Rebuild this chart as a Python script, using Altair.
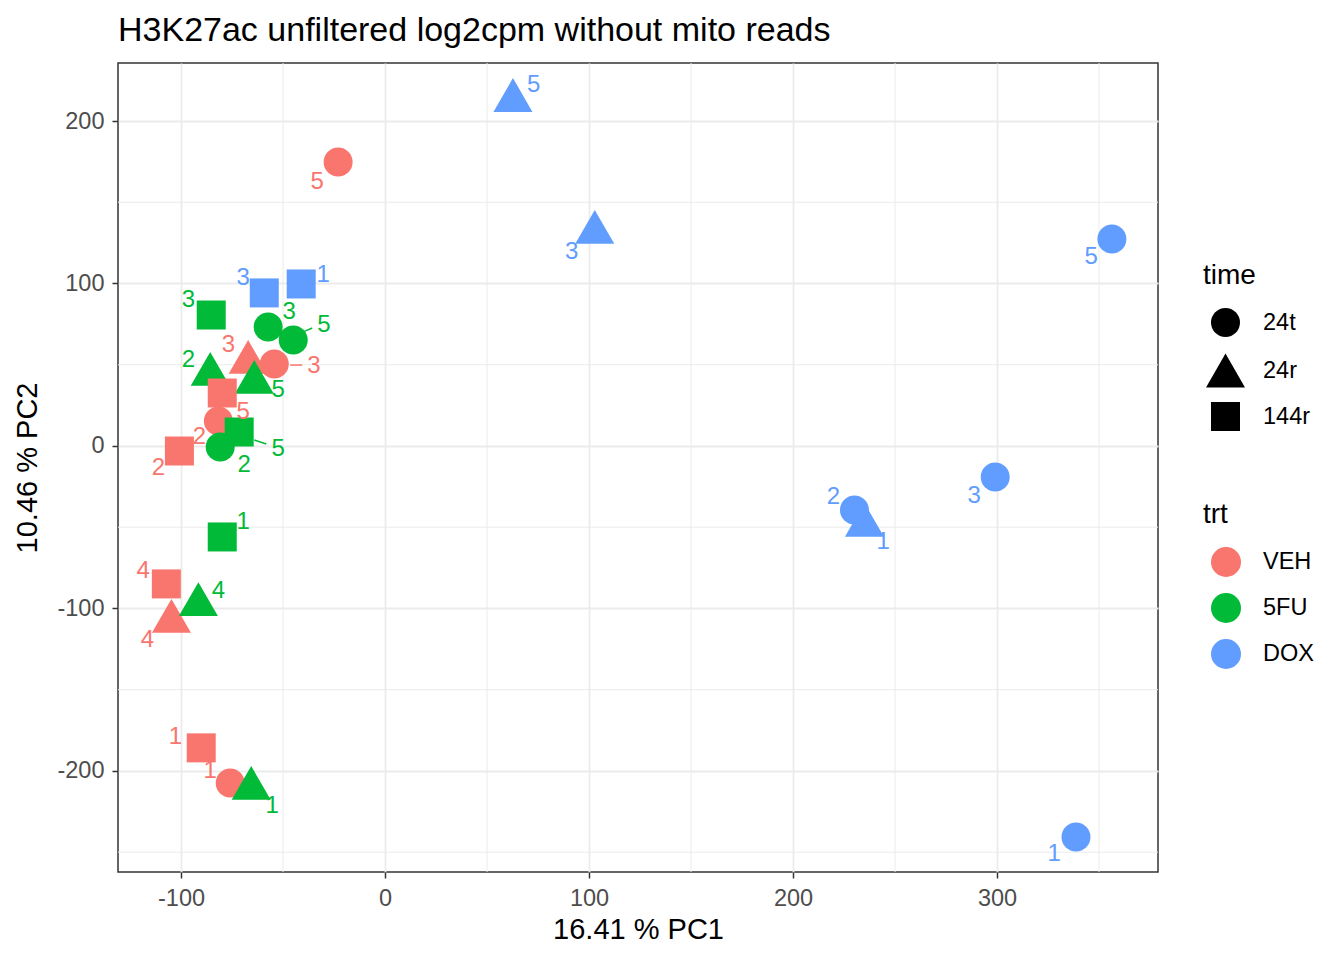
import altair as alt
import pandas as pd

# samples, in drawing order
trt = ["DOX", "DOX", "DOX", "DOX", "DOX", "DOX", "DOX", "DOX", "DOX",
       "VEH", "VEH", "VEH", "VEH", "VEH", "VEH", "VEH", "VEH",
       "5FU", "5FU", "5FU", "5FU", "5FU", "VEH", "VEH", "5FU", "5FU", "5FU", "5FU", "5FU"]
time = ["24r", "24r", "24t", "24t", "24r", "24t", "24t", "144r", "144r",
        "24t", "144r", "144r", "24r", "144r", "24t", "24r", "24t",
        "144r", "24t", "24t", "24r", "24r", "144r", "24t", "144r", "24t", "144r", "24r", "24r"]
rep = ["5", "3", "5", "1", "1", "2", "3", "3", "1",
       "5", "2", "4", "4", "1", "1", "3", "3",
       "3", "3", "5", "5", "2", "5", "2", "5", "2", "1", "4", "1"]
pc1 = [62.7, 102.8, 356.3, 338.7, 235.0, 230.1, 299.1, -59.2, -41.1,
       -23.0, -100.8, -107.2, -104.7, -90.1, -75.9, -67.1, -54.3,
       -85.2, -57.3, -45.0, -64.1, -85.7, -79.8, -81.7, -71.5, -80.8, -79.8, -91.5, -65.6]
pc2 = [216.0, 134.8, 127.4, -240.6, -45.5, -39.4, -19.1, 94.2, 99.7,
       174.8, -3.1, -84.9, -104.6, -185.8, -207.4, 54.8, 50.5,
       80.6, 73.2, 65.2, 42.5, 47.4, 32.6, 15.4, 8.6, -0.6, -56.0, -94.2, -207.4]
# repelled label positions
label_pc1 = [72.9, 91.5, 346.1, 328.0, 244.2, 219.8, 288.8, -69.5, -30.3,
             -33.3, -111.1, -118.5, -116.5, -102.8, -85.7, -76.8, -34.8,
             -96.4, -47.0, -29.9, -52.4, -96.4, -69.5, -91.0, -52.4, -69.0, -69.5, -81.7, -55.3]
label_pc2 = [222.2, 119.4, 116.3, -251.1, -59.1, -31.4, -30.8, 103.4, 105.2,
             162.5, -13.5, -76.9, -119.4, -179.1, -200.0, 62.2, 49.2,
             89.8, 82.5, 74.5, 34.5, 52.9, 20.9, 5.5, -1.8, -11.7, -46.8, -89.2, -221.5]

# repel segments
seg_trt = ["5FU", "VEH", "5FU"]
seg_pc1 = [-40.1, -46.5, -64.1]
seg_pc2 = [70.2, 49.8, 3.7]
seg_pc1_end = [-35.7, -40.6, -58.2]
seg_pc2_end = [72.6, 49.8, 1.2]

x_breaks = [-100, 0, 100, 200, 300]
y_breaks = [-200, -100, 0, 100, 200]
x_minor = [-50, 50, 150, 250, 350]
y_minor = [-250, -150, -50, 50, 150]

trt_levels = ["VEH", "5FU", "DOX"]
trt_colors = ["#F8766D", "#00BA38", "#619CFF"]
time_levels = ["24t", "24r", "144r"]

df = pd.DataFrame({"trt": trt, "time": time, "rep": rep, "pc1": pc1, "pc2": pc2,
                   "lx": label_pc1, "ly": label_pc2})
segs = pd.DataFrame({"trt": seg_trt, "x": seg_pc1, "y": seg_pc2,
                     "x2": seg_pc1_end, "y2": seg_pc2_end})

x_scale = alt.Scale(domain=[-130.9, 378.9], nice=False, zero=False)
y_scale = alt.Scale(domain=[-262.2, 235.7], nice=False, zero=False)
color_scale = alt.Scale(domain=trt_levels, range=trt_colors)

x_axis = alt.Axis(values=x_breaks, title="16.41 % PC1", labelExpr="toString(datum.value)",
                  labelPadding=8, titlePadding=6)
y_axis = alt.Axis(values=y_breaks, title="10.46 % PC2", labelExpr="toString(datum.value)",
                  labelPadding=8, titlePadding=14)

minor_x = alt.Chart(pd.DataFrame({"v": x_minor})).mark_rule(
    color="#EBEBEB", strokeWidth=1).encode(x=alt.X("v:Q", scale=x_scale, axis=x_axis))
minor_y = alt.Chart(pd.DataFrame({"v": y_minor})).mark_rule(
    color="#EBEBEB", strokeWidth=1).encode(y=alt.Y("v:Q", scale=y_scale, axis=y_axis))

time_legend = alt.Legend(orient="none", legendX=1085, legendY=199, padding=0,
                         titlePadding=18, rowPadding=14, symbolOffset=3,
                         labelOffset=18, symbolFillColor="black",
                         symbolStrokeWidth=0)

points = alt.Chart(df).mark_point(filled=True, opacity=1).encode(
    x=alt.X("pc1:Q", scale=x_scale, axis=x_axis),
    y=alt.Y("pc2:Q", scale=y_scale, axis=y_axis),
    color=alt.Color("trt:N", scale=color_scale, sort=trt_levels,
                    legend=alt.Legend(orient="none", legendX=1085, legendY=438, padding=0,
                                      titlePadding=18, rowPadding=16, symbolType="circle",
                                      symbolSize=900, symbolOffset=8, labelOffset=22,
                                      symbolStrokeWidth=0)),
    shape=alt.Shape("time:N", sort=time_levels,
                    scale=alt.Scale(domain=time_levels, range=["circle", "triangle-up", "square"]),
                    legend=time_legend),
    size=alt.Size("time:N", sort=time_levels,
                  scale=alt.Scale(type="ordinal", domain=time_levels, range=[841, 1521, 841]),
                  legend=time_legend),
    order=alt.Order("idx:Q"),
).transform_window(idx="row_number()")

segments = alt.Chart(segs).mark_rule(strokeWidth=1.5).encode(
    x=alt.X("x:Q", scale=x_scale, axis=x_axis),
    y=alt.Y("y:Q", scale=y_scale, axis=y_axis),
    x2="x2:Q",
    y2="y2:Q",
    color=alt.Color("trt:N", scale=color_scale, legend=None),
)

labels = alt.Chart(df).mark_text(fontSize=24, align="center", baseline="middle").encode(
    x=alt.X("lx:Q", scale=x_scale, axis=x_axis),
    y=alt.Y("ly:Q", scale=y_scale, axis=y_axis),
    text="rep:N",
    color=alt.Color("trt:N", scale=color_scale, legend=None),
)

chart = alt.layer(minor_x, minor_y, points, segments, labels).properties(
    width=1040,
    height=809,
    autosize=alt.AutoSizeParams(type="none"),
    padding={"left": 110, "top": 55, "right": 170, "bottom": 75},
    title=alt.Title("H3K27ac unfiltered log2cpm without mito reads", anchor="start",
                    frame="group", fontSize=34, fontWeight="normal", color="black",
                    offset=15),
).configure(font="Liberation Sans").configure_view(
    stroke="#333333", strokeWidth=1.5
).configure_axis(
    grid=True, gridColor="#EBEBEB", gridWidth=1.8, domain=False,
    tickColor="#333333", tickSize=6, tickWidth=1.5,
    labelColor="#4D4D4D", labelFontSize=23.5,
    titleColor="black", titleFontSize=29, titleFontWeight="normal",
).configure_legend(
    titleFontSize=28, titleFontWeight="normal", titleColor="black",
    labelFontSize=23.5, labelColor="black",
)

chart.save("out.html", embed_options={"renderer": "svg", "actions": False})
